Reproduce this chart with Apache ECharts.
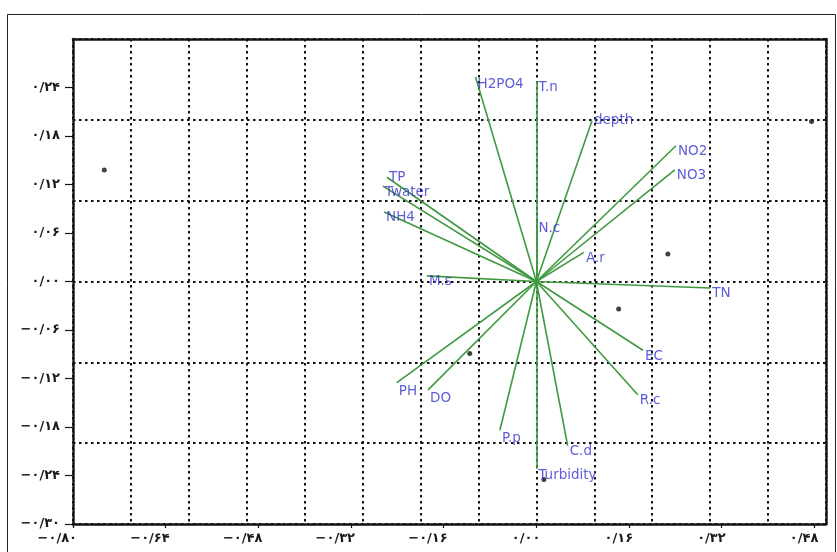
<!DOCTYPE html>
<html>
<head>
<meta charset="utf-8">
<script src="https://cdn.jsdelivr.net/npm/echarts@6/dist/echarts.min.js"></script>
<style>
  html, body { margin: 0; padding: 0; background: #fff; }
  #biplot { width: 837px; height: 552px; }
</style>
</head>
<body>
<div id="biplot"></div>
<script>
// axis tick labels (Persian digits)
const xTickLabels = ["−۰/۸۰", "−۰/۶۴", "−۰/۴۸", "−۰/۳۲", "−۰/۱۶", "۰/۰۰", "۰/۱۶", "۰/۳۲", "۰/۴۸"];
const yTickLabels = ["−۰/۳۰", "−۰/۲۴", "−۰/۱۸", "−۰/۱۲", "−۰/۰۶", "۰/۰۰", "۰/۰۶", "۰/۱۲", "۰/۱۸", "۰/۲۴"];

// variable vectors (arrow tips)
const varNames = ["H2PO4", "T.n", "depth", "NO2", "NO3", "TP", "Twater", "NH4", "N.c", "A.r",
  "M.s", "TN", "EC", "R.c", "PH", "DO", "P.p", "C.d", "Turbidity"];
const varX = [-0.105, 0.0, 0.096, 0.241, 0.239, -0.258, -0.265, -0.263, 0.0, 0.082,
  -0.189, 0.300, 0.184, 0.175, -0.241, -0.187, -0.063, 0.054, 0.0];
const varY = [0.253, 0.248, 0.199, 0.168, 0.138, 0.129, 0.118, 0.086, 0.075, 0.036,
  0.007, -0.008, -0.085, -0.140, -0.125, -0.134, -0.184, -0.203, -0.232];

// sample scores
const siteX = [-0.746, 0.475, 0.227, 0.142, -0.115, 0.013];
const siteY = [0.138, 0.198, 0.034, -0.034, -0.089, -0.245];

const xMin = -0.8, xMax = 0.5, xLabelStep = 0.16;
const yMin = -0.3, yMax = 0.3, yLabelStep = 0.06;

// label nudges (px) for the vector names
const labelNudge = { "TP": [0, 0], "depth": [0, 0], "H2PO4": [0, 8], "N.c": [0, 8], "PH": [0, 9], "DO": [0, 9], "P.p": [0, 8] };

function pickLabel(list, min, step) {
  return function (v) {
    const i = Math.round((v - min) / step);
    if (Math.abs(min + i * step - v) > 1e-6) return "";
    return list[i] || "";
  };
}

const dotted = [2.5, 3.5];
const frameLine = { show: true, onZero: false, lineStyle: { color: "#111", width: 2.5, type: [2, 1.5] } };
const tickFont = { color: "#1a1a1a", fontFamily: "DejaVu Sans", fontWeight: "bold", fontSize: 13 };

const chart = echarts.init(document.getElementById("biplot"));
chart.setOption({
  animation: false,
  backgroundColor: "#fff",
  graphic: [{
    type: "rect",
    shape: { x: 7.5, y: 14.5, width: 828, height: 560 },
    style: { fill: "none", stroke: "#222", lineWidth: 1 },
    silent: true
  }],
  grid: { left: 73, right: 11, top: 39, bottom: 28 },
  xAxis: [
    {
      type: "value", min: xMin, max: xMax, interval: xLabelStep, position: "bottom",
      axisLine: frameLine,
      axisTick: { show: true, length: 4, lineStyle: { color: "#111", width: 1.2 } },
      axisLabel: Object.assign({ margin: 8, align: "right", padding: [0, -4, 0, 0], showMaxLabel: false,
        formatter: pickLabel(xTickLabels, xMin, xLabelStep) }, tickFont),
      splitLine: { show: false }
    },
    {
      type: "value", min: xMin, max: xMax, interval: 0.1, position: "top",
      axisLine: frameLine,
      axisTick: { show: false },
      axisLabel: { show: false },
      splitLine: { show: true, lineStyle: { color: "#111", width: 2, type: dotted } }
    }
  ],
  yAxis: [
    {
      type: "value", min: yMin, max: yMax, interval: yLabelStep, position: "left",
      axisLine: frameLine,
      axisTick: { show: true, length: 8, lineStyle: { color: "#111", width: 1.2 } },
      axisLabel: Object.assign({ margin: 13, showMaxLabel: false,
        formatter: pickLabel(yTickLabels, yMin, yLabelStep) }, tickFont),
      splitLine: { show: false }
    },
    {
      type: "value", min: yMin, max: yMax, interval: 0.1, position: "right",
      axisLine: frameLine,
      axisTick: { show: false },
      axisLabel: { show: false },
      splitLine: { show: true, lineStyle: { color: "#111", width: 2, type: dotted } }
    }
  ],
  series: [
    {
      type: "lines",
      coordinateSystem: "cartesian2d",
      xAxisIndex: 0, yAxisIndex: 0,
      silent: true,
      lineStyle: { color: "#3f9a3f", width: 1.6, opacity: 1 },
      data: varNames.map((n, i) => ({ coords: [[0, 0], [varX[i], varY[i]]] }))
    },
    {
      type: "scatter",
      xAxisIndex: 0, yAxisIndex: 0,
      symbolSize: 0,
      silent: true,
      label: {
        show: true, position: "right", distance: 2, offset: [0, 6],
        formatter: p => p.name,
        color: "#3535cf", fontFamily: "DejaVu Sans", fontSize: 13.5
      },
      data: varNames.map((n, i) => {
        const item = { name: n, value: [varX[i], varY[i]] };
        if (labelNudge[n]) item.label = { offset: labelNudge[n] };
        return item;
      })
    },
    {
      type: "scatter",
      xAxisIndex: 0, yAxisIndex: 0,
      symbolSize: 5,
      itemStyle: { color: "#111" },
      data: siteX.map((x, i) => [x, siteY[i]])
    }
  ]
});
</script>
</body>
</html>
